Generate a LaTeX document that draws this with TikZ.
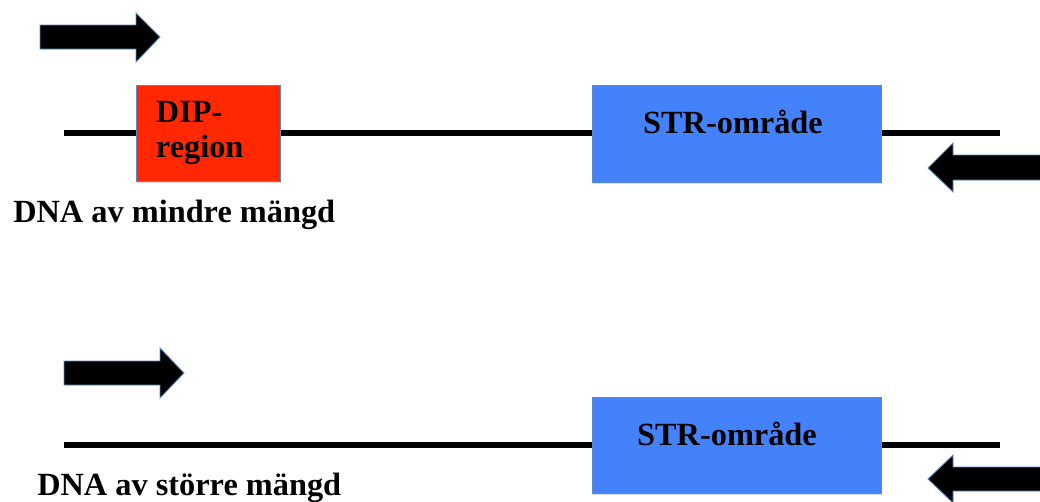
\documentclass[tikz,border=0pt]{standalone}
\usepackage{fontspec}
\setmainfont{Liberation Serif}
\usepackage{tikz}
\usetikzlibrary{shadows}

\definecolor{diped}{RGB}{255,40,0}
\definecolor{strblue}{RGB}{68,130,252}
\definecolor{edgeblue}{RGB}{90,140,205}

\tikzset{
  dna/.style={line width=3.8pt},
  primer/.style={fill=black, draw=edgeblue, line width=0.6pt},
  region/.style={draw=edgeblue, line width=0.5pt, inner sep=0pt,
    drop shadow={shadow xshift=0.4pt, shadow yshift=-1.4pt, opacity=0.3}},
  boxtext/.style={font=\fontsize{23}{25}\selectfont\bfseries, inner sep=0pt}
}

\begin{document}
\begin{tikzpicture}[x=0.025cm,y=-0.025cm]
            \useasboundingbox (0,0) rectangle (1040,501);
            \clip (0,0) rectangle (1040,501);

            % upper strand
            \coordinate (topL) at (64,133);
            \coordinate (topR) at (1000,133);
            \draw[dna] (topL) -- (topR);

            \node[region, fill=diped, minimum width=3.6cm, minimum height=2.4cm,
                  boxtext, align=left, text width=2.6cm] (dip) at (208,133) {DIP-\\region};
            \node[region, fill=strblue, minimum width=7.225cm, minimum height=2.425cm] (strTop) at (736.5,133.5) {};
            \node[boxtext, anchor=base] (strTopText) at (733,133.5) {STR-område};

            \draw[primer] (40,25) -- (136,25) -- (136,13) -- (160,37) -- (136,62) -- (136,49) -- (40,49) -- cycle;
            \draw[primer] (1045,155) -- (953,155) -- (953,143) -- (928,168) -- (953,192) -- (953,180) -- (1045,180) -- cycle;

            \node[boxtext, anchor=base west] (lblSmall) at (13,222) {DNA av mindre mängd};

            % lower strand
            \coordinate (botL) at (64,445);
            \coordinate (botR) at (1000,445);
            \draw[dna] (botL) -- (botR);

            \node[region, fill=strblue, minimum width=7.225cm, minimum height=2.4cm] (strBot) at (736.5,445) {};
            \node[boxtext, anchor=base] (strBotText) at (727,445) {STR-område};

            \draw[primer] (64,361) -- (160,361) -- (160,348) -- (184,373) -- (160,398) -- (160,385) -- (64,385) -- cycle;
            \draw[primer] (1045,467) -- (953,467) -- (953,455) -- (928,479) -- (953,503) -- (953,491) -- (1045,491) -- cycle;

            \node[boxtext, anchor=base west] (lblLarge) at (37,495) {DNA av större mängd};

        \end{tikzpicture}
\end{document}
